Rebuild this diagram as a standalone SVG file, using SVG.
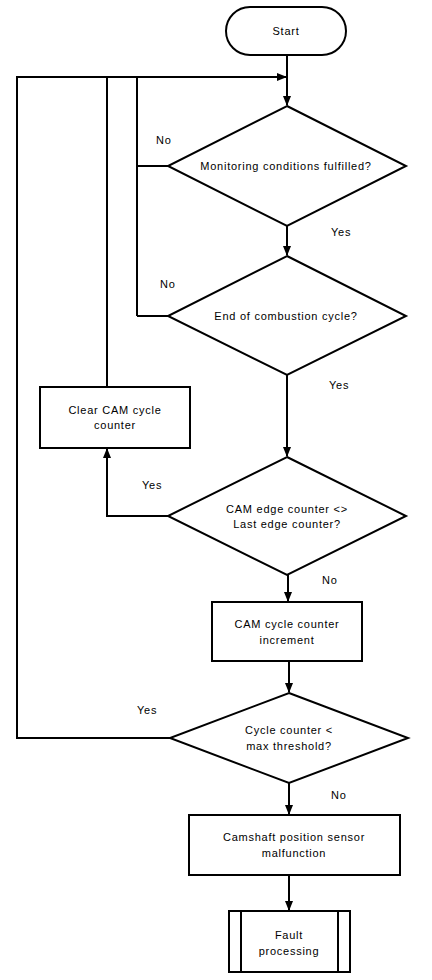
<svg xmlns="http://www.w3.org/2000/svg" width="432" height="980" viewBox="0 0 432 980">
<style>
.s{fill:#fff;stroke:#000;stroke-width:2}
.c{fill:none;stroke:#000;stroke-width:2}
text{font-family:"Liberation Sans",Arial,sans-serif;font-size:11px;fill:#000;letter-spacing:0.75px}
.m{text-anchor:middle}
</style>
<defs>
<marker id="a" markerWidth="10" markerHeight="8" refX="9" refY="4" orient="auto" markerUnits="userSpaceOnUse">
<path d="M0,0 L10,4 L0,8 Z" fill="#000"/>
</marker>
</defs>
<rect width="432" height="980" fill="#fff"/>
<g id="connectors">
<path class="c" d="M287,55 V105" marker-end="url(#a)"/>
<path class="c" d="M137,166 H168 M137,316 H168 M137,316 V77 H286" marker-end="url(#a)"/>
<path class="c" d="M107,387 V77"/>
<path class="c" d="M170,738 H17 V77 H137"/>
<path class="c" d="M287,226 V255" marker-end="url(#a)"/>
<path class="c" d="M287,375 V456" marker-end="url(#a)"/>
<path class="c" d="M168,516 H107 V449" marker-end="url(#a)"/>
<path class="c" d="M288,575 V601" marker-end="url(#a)"/>
<path class="c" d="M289,661 V692" marker-end="url(#a)"/>
<path class="c" d="M289,783 V814" marker-end="url(#a)"/>
<path class="c" d="M289,875 V910" marker-end="url(#a)"/>
</g>
<g id="labels">
<text x="156" y="144">No</text>
<text x="331" y="236">Yes</text>
<text x="160" y="288">No</text>
<text x="329" y="389">Yes</text>
<text x="142" y="489">Yes</text>
<text x="322" y="584">No</text>
<text x="137" y="714">Yes</text>
<text x="331" y="799">No</text>
</g>
<g id="start">
<rect class="s" x="226" y="7" width="120" height="48" rx="24"/>
<text class="m" x="286" y="35">Start</text>
</g>
<g id="monitoring">
<path class="s" d="M287,106 L406,166 L287,226 L168,166 Z"/>
<text class="m" x="286" y="170">Monitoring conditions fulfilled?</text>
</g>
<g id="endcycle">
<path class="s" d="M287,256 L406,316 L287,375 L168,316 Z"/>
<text class="m" x="286" y="320">End of combustion cycle?</text>
</g>
<g id="clear">
<rect class="s" x="40" y="387" width="150" height="61"/>
<text class="m" x="115" y="414">Clear CAM cycle</text>
<text class="m" x="115" y="429">counter</text>
</g>
<g id="edge">
<path class="s" d="M287,457 L406,516 L287,575 L168,516 Z"/>
<text class="m" x="287" y="513">CAM edge counter &lt;&gt;</text>
<text class="m" x="287" y="528">Last edge counter?</text>
</g>
<g id="increment">
<rect class="s" x="212" y="602" width="150" height="59"/>
<text class="m" x="287" y="628">CAM cycle counter</text>
<text class="m" x="287" y="644">increment</text>
</g>
<g id="threshold">
<path class="s" d="M289,693 L408,738 L289,783 L170,738 Z"/>
<text class="m" x="289" y="734">Cycle counter &lt;</text>
<text class="m" x="289" y="750">max threshold?</text>
</g>
<g id="malfunction">
<rect class="s" x="189" y="815" width="211" height="60"/>
<text class="m" x="294" y="841">Camshaft position sensor</text>
<text class="m" x="294" y="857">malfunction</text>
</g>
<g id="fault">
<rect class="s" x="229" y="911" width="121" height="61"/>
<path class="c" d="M241,911 V972 M338,911 V972"/>
<text class="m" x="289" y="939">Fault</text>
<text class="m" x="289" y="955">processing</text>
</g>
</svg>
